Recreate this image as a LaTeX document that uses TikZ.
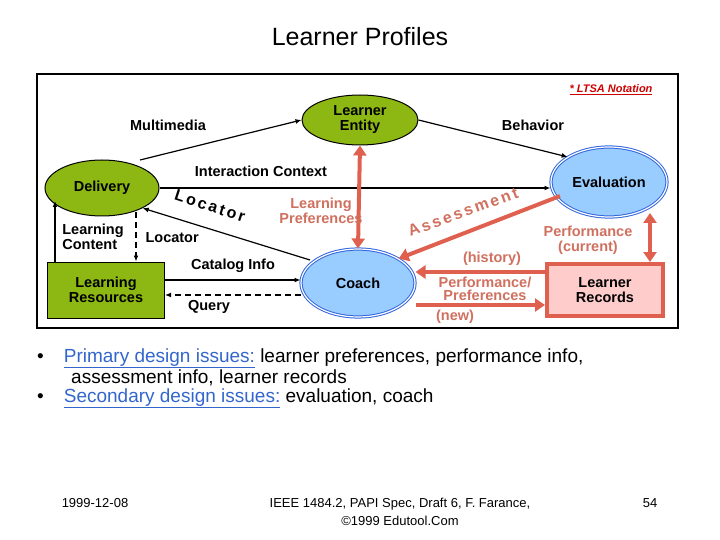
\documentclass[tikz,border=0pt]{standalone}
\usepackage{fontspec}
\setmainfont{Liberation Sans}
\usetikzlibrary{shapes.geometric,arrows.meta}
\definecolor{grn}{HTML}{8DB814}
\definecolor{blu}{HTML}{99CCFF}
\definecolor{bdr}{HTML}{3366DD}
\definecolor{sal}{HTML}{E0604F}
\definecolor{salt}{HTML}{D0705F}
\definecolor{pnk}{HTML}{FFCCCC}
\definecolor{lnk}{HTML}{3366CC}
\newfontfamily\spaced[LetterSpace=15]{Liberation Sans}
\begin{document}
\begin{tikzpicture}[x=1pt,y=-1pt,
  lbl/.style={font=\bfseries\fontsize{14.5}{15}\selectfont, align=center},
  slbl/.style={lbl, text=salt},
  rlbl/.style={font=\spaced\bfseries\fontsize{16}{16}\selectfont},
  gell/.style={ellipse, fill=grn, draw=black, line width=1pt, font=\bfseries\fontsize{14.5}{15}\selectfont, align=center, inner sep=0pt},
  bell/.style={ellipse, fill=blu, draw=bdr, double=white, double distance=1.2pt, line width=1pt, font=\bfseries\fontsize{14.5}{15}\selectfont, align=center, inner sep=0pt},
  blk/.style={line width=1.2pt, -{Latex[length=6pt,width=5pt]}},
  dsh/.style={blk, dash pattern=on 6pt off 4pt},
  fat/.style={line width=4pt, draw=sal, -{Triangle[length=10pt,width=13pt]}},
  fatd/.style={line width=4pt, draw=sal, {Triangle[length=10pt,width=13pt]}-{Triangle[length=10pt,width=13pt]}},
  txt/.style={font=\fontsize{19}{21}\selectfont, anchor=base west, inner sep=0pt}]
\useasboundingbox (0,0) rectangle (720,540);
\node (title) at (360,37) {\fontsize{25}{28}\selectfont Learner Profiles};
\node[draw=black, line width=2pt, minimum width=641pt, minimum height=254pt, anchor=north west, inner sep=0pt] (frame) at (36,73) {};
\node[text=red!80!black, font=\itshape\bfseries\fontsize{11}{12}\selectfont] (ltsa) at (611,90) {\underline{* LTSA Notation}};

\node[gell, minimum width=116pt, minimum height=50pt] (le) at (360,120) {Learner\\Entity};
\node[gell, minimum width=114pt, minimum height=56pt] (del) at (102,188) {Delivery};
\node[draw=black, line width=1pt, fill=grn, minimum width=117pt, minimum height=56pt, inner sep=0pt, font=\bfseries\fontsize{14.5}{15}\selectfont, align=center] (lr) at (106,290) {Learning\\Resources};
\node[bell, minimum width=114pt, minimum height=68pt] (coach) at (358,283) {Coach};
\node[bell, minimum width=116pt, minimum height=70pt] (eval) at (609,182) {Evaluation};
\node[draw=sal, line width=4pt, fill=pnk, minimum width=116pt, minimum height=52pt, inner sep=0pt, font=\bfseries\fontsize{14.5}{15}\selectfont, align=center] (rec) at (605,290) {Learner\\Records};

\coordinate (d1) at (140,160);
\coordinate (d2) at (136,212);
\coordinate (d3) at (55,201);
\coordinate (c1) at (310,260);
\coordinate (e1) at (560,196);
\coordinate (e2) at (650,213);

% black connectors
\draw[blk] (d1) -- (le.west);
\node[lbl] (mm) at (168,125) {Multimedia};
\draw[blk] (le.east) -- (eval.north west);
\node[lbl] (beh) at (533,125) {Behavior};
\draw[blk] (del.east) -- (del.east -| eval.west);
\node[lbl] (ic) at (261,171) {Interaction Context};
\draw[blk] (c1) -- (del.south east);
\node[rlbl, rotate=-18] (loc1) at (210,206) {Locator};
\draw[dsh] (d2) -- (lr.north -| d2);
\node[lbl, anchor=west] (loc2) at (142,238) {Locator};
\draw[blk] (lr.north -| d3) -- (d3);
\node[lbl, align=left] (lc) at (93,237) {Learning\\Content};
\draw[blk] (lr.east |- 0,280) -- (coach.west |- 0,280);
\node[lbl] (ci) at (233,266) {Catalog Info};
\draw[dsh] (coach.west |- 0,295) -- (lr.east |- 0,295);
\node[lbl] (q) at (209,307) {Query};

% salmon connectors
\draw[fatd] (le.south) -- (coach.north);
\node[slbl] (lp) at (321,211) {Learning\\Preferences};
\draw[fat] (e1) -- (coach.north east);
\node[rlbl, text=salt, rotate=20] (ass) at (463,212) {Assessment};
\draw[fatd] (e2) -- (rec.north -| e2);
\node[slbl] (pc) at (588,240) {Performance\\(current)};
\draw[fat] (rec.west |- 0,272) -- (coach.east |- 0,272);
\draw[fat] (coach.east |- 0,305) -- (rec.west |- 0,305);
\node[slbl] (hist) at (492,259) {(history)};
\node[slbl, font=\bfseries\fontsize{14.5}{13}\selectfont] (pp) at (485,289) {Performance/\\Preferences};
\node[slbl] (new) at (455,317) {(new)};

% bullets
\node[txt] (b1) at (37,362) {•\hspace{20pt}\textcolor{lnk}{\underline{Primary design issues:}} learner preferences, performance info,};
\node[txt] (b2) at (71,383) {assessment info, learner records};
\node[txt] (b3) at (37,402) {•\hspace{20pt}\textcolor{lnk}{\underline{Secondary design issues:}} evaluation, coach};

% footer
\node[font=\fontsize{13}{15}\selectfont] (date) at (95,503) {1999-12-08};
\node[font=\fontsize{13}{18}\selectfont, align=center] (foot) at (400,512) {IEEE 1484.2, PAPI Spec, Draft 6, F. Farance,\\©1999 Edutool.Com};
\node[font=\fontsize{13}{15}\selectfont] (pg) at (650,503) {54};
\end{tikzpicture}
\end{document}
